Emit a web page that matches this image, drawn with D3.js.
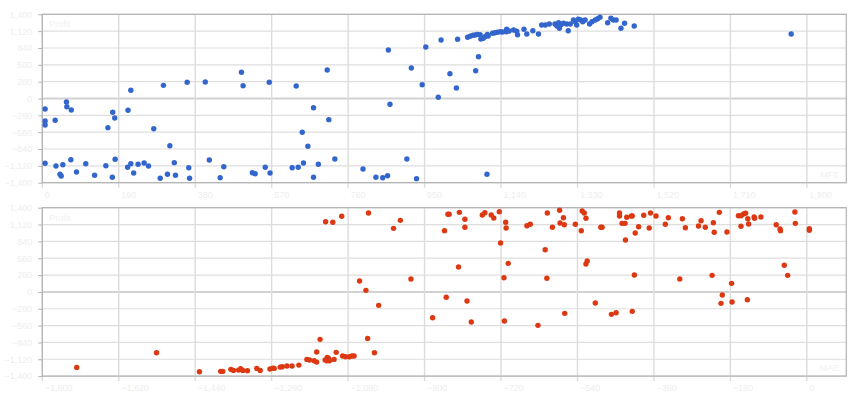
<!DOCTYPE html>
<html>
<head>
<meta charset="utf-8">
<script src="https://cdn.jsdelivr.net/npm/d3@7"></script>
<style>
  body { margin: 0; background: #fff; }
  text { font-family: "Liberation Sans", Arial, sans-serif; }
</style>
</head>
<body>
<div id="chart"></div>
<script>
// Top panel: MFE vs Profit
const mfe = [7, 7, 7, 32, 60, 61, 72, 7, 34, 44, 47, 51, 71, 85, 108, 130, 158, 163, 174, 175, 180, 181, 213, 212, 220, 220, 227, 238, 253, 264, 277, 293, 301, 311, 317, 328, 331, 360, 364, 366, 405, 415, 442, 451, 495, 499, 522, 529, 554, 564, 566, 621, 631, 636, 649, 646, 660, 674, 674, 686, 708, 712, 727, 797, 829, 846, 858, 860, 864, 906, 917, 930, 944, 953, 984, 991, 1013, 1029, 1032, 1077, 1084, 1105,
  1057, 1063, 1070, 1076, 1081, 1088, 1090, 1096, 1100, 1106, 1108, 1119, 1125, 1131, 1138, 1144, 1153, 1154, 1160, 1171, 1179, 1181, 1197, 1204, 1219, 1233, 1241, 1250, 1260, 1274, 1279, 1283, 1285, 1289, 1295, 1303, 1307, 1312, 1320, 1324, 1328, 1332, 1338, 1343, 1349, 1360, 1366, 1374, 1380, 1386, 1405, 1413, 1419, 1426, 1438, 1447, 1471, 1861];
const profitTop = [-175, -374, -441, -362, -58, -136, -191, -1077, -1122, -1260, -1289, -1101, -1018, -1222, -1084, -1277, -1117, -485, -1310, -229, -324, -1011, -196, -1144, 136, -1084, -1239, -1094, -1072, -1122, -502, -1327, 219, -1260, -785, -1067, -1277, 269, -1151, -1327, 274, -1023, -1317, -1134, 436, 213, -1234, -1250, -1144, 269, -1239, -1151, 208, -1144, -1072, -562, -795, -153, -1310, -1094, 474, -352, -1006, -1172, -1310, -1317, -1284, 806, -96, -1006, 507, -1333, 229, 856, 20, 973, 412, 175, 984, 462, 695, -1260,
  1018, 1034, 1051, 1056, 1067, 1061, 989, 1001, 1028, 1067, 1039, 1084, 1094, 1101, 1111, 1106, 1111, 1151, 1122, 1139, 1117, 1061, 1151, 1072, 1127, 1072, 1222, 1222, 1239, 1239, 1205, 1260, 1167, 1227, 1250, 1239, 1127, 1239, 1305, 1277, 1222, 1317, 1305, 1277, 1305, 1239, 1277, 1305, 1327, 1350, 1260, 1334, 1305, 1305, 1167, 1250, 1205, 1072];

// Bottom panel: MAE vs Profit
const mae = [-1719, -1531, -1430, -1380, -1375, -1356, -1350, -1338, -1333, -1328, -1317, -1295, -1287, -1264, -1257, -1254, -1240, -1235, -1224, -1212, -1196, -1177, -1171, -1160, -1154, -1154, -1146, -1134, -1130, -1126, -1124, -1129, -1113, -1108, -1093, -1086, -1077, -1071, -1066, -1034, -1018,
  -1133, -1116, -1095, -1053, -1038, -1032, -1008, -973, -957, -932, -881, -853, -849, -845, -842, -820, -818, -805, -805, -800, -790, -764, -758, -743, -737, -724, -721, -713, -712, -709, -708, -703, -659, -651, -633, -616, -612, -611, -599, -582, -581, -573, -571, -570, -545, -531, -529, -524, -520, -520, -517, -498, -485, -482, -460, -449, -441, -441, -435, -428, -427, -424, -413, -411, -411, -406, -404, -396, -384, -371, -368, -355, -333, -326, -299, -293, -286, -255, -249, -239, -223, -220, -218, -206, -202, -199, -188, -177, -176, -161, -155, -149, -144, -155, -140, -139, -137, -124, -123, -108, -72, -63, -62, -53, -45, -28, -27, 6, 6];
const profitBottom = [-1255, -1012, -1328, -1321, -1321, -1288, -1305, -1300, -1278, -1305, -1311, -1272, -1305, -1283, -1267, -1272, -1250, -1245, -1233, -1233, -1217, -1122, -1133, -1145, -1167, -1000, -789, -1133, -1145, -1105, -1145, -1089, -1122, -1005, -1067, -1079, -1079, -1067, -1067, -773, -1012,
  1167, 1157, 1257, 181, 26, 1312, -224, 1057, 1190, 214, -430, 1017, -90, 1290, 1290, 414, 1323, 1207, 1074, -152, -501, 1279, 1317, 1279, 1229, 1333, 813, 236, -485, 1157, 1062, 475, 1101, 1124, -556, 701, 226, 1312, 1074, 1357, 1145, 1234, 1117, -357, 1124, 1017, 1345, 1312, 1224, 463, 513, -185, 1074, 1074, -373, -347, 1312, 1262, 1140, 1140, 863, 1240, 1262, 1262, -323, 280, 979, 1084, 1274, 1062, 1312, 1262, 1124, 1234, 214, 1217, 1067, 1096, 1184, 1074, 275, 1150, 991, 1323, -190, -52, 996, 142, -169, 1267, 1267, 1295, 1307, 1091, -130, 1217, 1129, 1245, 1224, 1245, 1117, 1046, 1017, 442, 275, 1328, 1140, 1051, 1024];

const yTicks = d3.range(-1400, 1401, 280);
const mfeTicks = d3.range(0, 1901, 190);
const maeTicks = d3.range(-1800, 1, 180);

const W = 860, H = 400;
const plotW = 804, plotH = 168.4;

const svg = d3.select("#chart").append("svg")
  .attr("width", W)
  .attr("height", H);

function drawPanel(top, xDomain, xTicks, xs, ys, color, yLabel, xLabel) {
  const g = svg.append("g").attr("transform", `translate(42.3,${top})`);
  const x = d3.scaleLinear().domain(xDomain).range([0, plotW]);
  const y = d3.scaleLinear().domain([-1400, 1400]).range([plotH, 0]);

  // gridlines
  g.selectAll(".hgrid").data(yTicks).enter().append("line")
    .attr("x1", 0).attr("x2", plotW)
    .attr("y1", d => y(d)).attr("y2", d => y(d))
    .attr("stroke", d => d === 0 ? "#d2d2d2" : "#dedede")
    .attr("stroke-width", d => d === 0 ? 2 : 1.2);
  g.selectAll(".vgrid").data(xTicks).enter().append("line")
    .attr("x1", d => x(d)).attr("x2", d => x(d))
    .attr("y1", 0).attr("y2", plotH + 5)
    .attr("stroke", "#dcdcdc")
    .attr("stroke-width", 1.4);

  // frame
  g.append("rect")
    .attr("width", plotW).attr("height", plotH)
    .attr("fill", "none")
    .attr("stroke", "#b2b2b2")
    .attr("stroke-width", 1.2);

  // axes (ticks + faint labels)
  const yAxis = g.append("g")
    .call(d3.axisLeft(y).tickValues(yTicks).tickSize(4).tickPadding(6));
  yAxis.select(".domain").remove();
  yAxis.selectAll("line").attr("stroke", "#b2b2b2");
  yAxis.selectAll("text").attr("fill", "#eeeeee").style("font-size", "9px");

  const xAxis = g.append("g")
    .attr("transform", `translate(0,${plotH})`)
    .call(d3.axisBottom(x).tickValues(xTicks).tickSize(0).tickPadding(9));
  xAxis.select(".domain").remove();
  xAxis.selectAll("text")
    .attr("fill", "#eeeeee")
    .attr("text-anchor", "start")
    .attr("dx", 2)
    .style("font-size", "9px");

  g.append("text")
    .attr("x", 7).attr("y", 13)
    .attr("fill", "#f1f1f1")
    .style("font-size", "9px")
    .text(yLabel);
  g.append("text")
    .attr("x", plotW - 7).attr("y", plotH - 5)
    .attr("text-anchor", "end")
    .attr("fill", "#f1f1f1")
    .style("font-size", "9px")
    .text(xLabel);

  g.selectAll(".dot").data(xs.map((d, i) => [d, ys[i]])).enter().append("circle")
    .attr("class", "dot")
    .attr("cx", d => x(d[0]))
    .attr("cy", d => y(d[1]))
    .attr("r", 2.7)
    .attr("fill", color);
}

drawPanel(14.3, [0, 1998], mfeTicks, mfe, profitTop, "#3366cc", "Profit", "MFE");
drawPanel(207.7, [-1800, 93], maeTicks, mae, profitBottom, "#dc3912", "Profit", "MAE");
</script>
</body>
</html>
